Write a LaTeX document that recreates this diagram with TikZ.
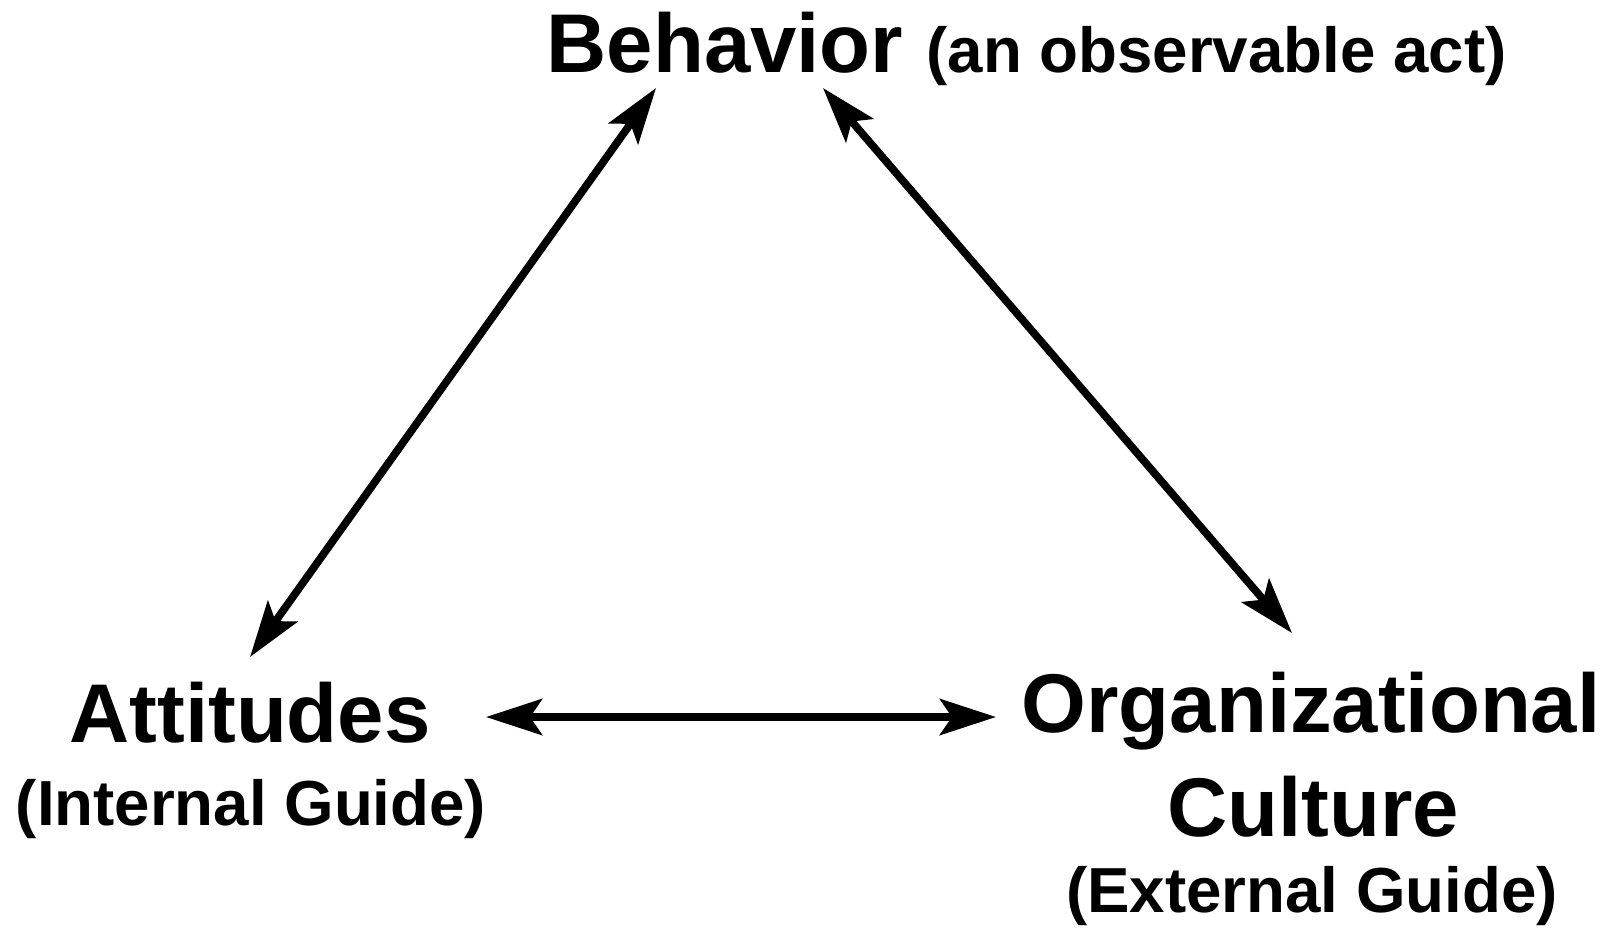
\documentclass[tikz,border=0pt]{standalone}
\usepackage{fontspec}
\setmainfont{Liberation Sans}
\usetikzlibrary{arrows.meta}
\tikzset{
  big/.style = {font=\bfseries\fontsize{23.7}{28}\selectfont, inner sep=0pt, anchor=base},
  sub/.style = {font=\bfseries\fontsize{18.1}{22}\selectfont, inner sep=0pt, anchor=base},
  tip/.tip = {Stealth[length=0.56cm, width=0.36cm, inset=0.12cm]},
  arrow/.style = {line width=2.2pt, tip-tip}
}

\begin{document}
\begin{tikzpicture}[x=0.01cm, y=-0.01cm]

    \useasboundingbox (0,0) rectangle (1623,929);

    % Nodes
    \node (beh) [big, anchor=base west] at (546,72) {Behavior \fontsize{18.1}{22}\selectfont(an observable act)};
    \node (att) [big] at (250,742) {Attitudes};
    \node (attsub) [sub] at (251,825) {(Internal Guide)};
    \node (org) [big] at (1311,732) {Organizational};
    \node (orgcult) [big] at (1313,836) {Culture};
    \node (orgsub) [sub] at (1312,912) {(External Guide)};

    % Arrow ends
    \coordinate (behleft) at (656,88);
    \coordinate (behright) at (823,88);
    \coordinate (atttop) at (250,657);
    \coordinate (attright) at (486,717);
    \coordinate (orgtop) at (1292,633);
    \coordinate (orgleft) at (996,717);

    % Arrows
    \draw [arrow] (atttop) -- (behleft);
    \draw [arrow] (behright) -- (orgtop);
    \draw [arrow] (attright) -- (orgleft);

\end{tikzpicture}
\end{document}
